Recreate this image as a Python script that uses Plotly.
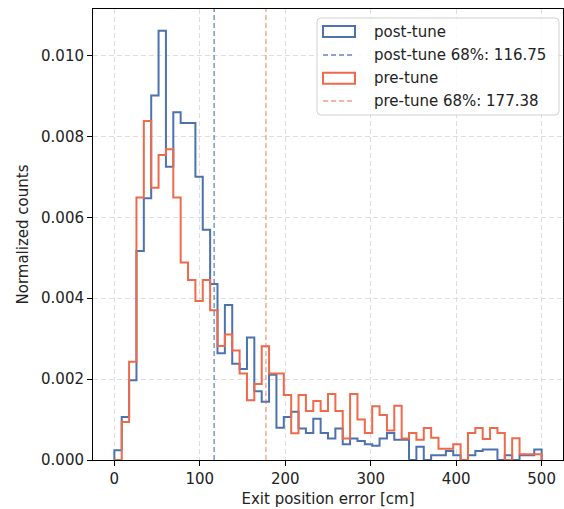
import numpy as np
import plotly.graph_objects as go

# ---- data -------------------------------------------------------------
bin_min = 0.0
bin_max = 500.0
n_bins = 58

post_tune = [0.00024, 0.00106, 0.00197, 0.00517, 0.00647, 0.00901, 0.01061, 0.00725, 0.00860, 0.00833,
             0.00833, 0.00700, 0.00569, 0.00435, 0.00264, 0.00383, 0.00238, 0.00225, 0.00303, 0.00170,
             0.00144, 0.00211, 0.00080, 0.00106, 0.00119, 0.00078, 0.00067, 0.00102, 0.00067, 0.00053,
             0.00078, 0.00039, 0.00053, 0.00047, 0.00039, 0.00035, 0.00053, 0.00067, 0.00050, 0.00050,
             0.0, 0.00033, 0.0, 0.00012, 0.00012, 0.00022, 0.00012, 0.0, 0.00012, 0.00022,
             0.00026, 0.00026, 0.0, 0.00012, 0.0, 0.00012, 0.00012, 0.00026]

pre_tune = [0.0, 0.00094, 0.00243, 0.00649, 0.00838, 0.00673, 0.00754, 0.00768, 0.00649, 0.00488,
            0.00445, 0.00393, 0.00445, 0.00370, 0.00282, 0.00310, 0.00271, 0.00214, 0.00148, 0.00188,
            0.00281, 0.00214, 0.00214, 0.00161, 0.00066, 0.00161, 0.00121, 0.00146, 0.00121, 0.00163,
            0.00121, 0.00053, 0.00163, 0.00100, 0.00067, 0.00133, 0.00111, 0.00073, 0.00134, 0.00053,
            0.00067, 0.00050, 0.00079, 0.00055, 0.00028, 0.00028, 0.00039, 0.0, 0.00067, 0.00079,
            0.00052, 0.00079, 0.00067, 0.0, 0.00054, 0.00014, 0.00014, 0.00014]

post_p68 = 116.75
pre_p68 = 177.38

series_names = ["post-tune", "pre-tune"]
x_ticks = [0, 100, 200, 300, 400, 500]
y_ticks = [0.000, 0.002, 0.004, 0.006, 0.008, 0.010]

# ---- styling ----------------------------------------------------------
W, H = 564, 509
ML, MR, MT, MB = 93, 1, 9, 49
BLUE = "#4C72B0"
RED = "#EE6A4B"
BLUE_DASH = "rgba(76,114,176,0.85)"
RED_DASH = "rgba(238,106,75,0.65)"
FONT = "DejaVu Sans"
FS = 15

edges = np.linspace(bin_min, bin_max, n_bins + 1)


def step_xy(counts):
    c = np.asarray(counts, dtype=float)
    x = np.concatenate([[edges[0]], edges[:-1], [edges[-1], edges[-1]]])
    y = np.concatenate([[0.0], c, [c[-1], 0.0]])
    return x, y


fig = go.Figure()

xb, yb = step_xy(post_tune)
fig.add_trace(go.Scatter(x=xb, y=yb, mode="lines", line=dict(color=BLUE, width=2, shape="hv"),
                         name=series_names[0], showlegend=False, hoverinfo="skip"))
xr, yr = step_xy(pre_tune)

shapes = []
# vertical percentile lines
shapes.append(dict(type="line", xref="x", yref="paper", x0=post_p68, x1=post_p68, y0=0, y1=1,
                   line=dict(color=BLUE_DASH, width=1.3, dash="5px,3px"), layer="above"))
fig.add_trace(go.Scatter(x=xr, y=yr, mode="lines", line=dict(color=RED, width=2, shape="hv"),
                         name=series_names[1], showlegend=False, hoverinfo="skip"))
shapes.append(dict(type="line", xref="x", yref="paper", x0=pre_p68, x1=pre_p68, y0=0, y1=1,
                   line=dict(color=RED_DASH, width=1.3, dash="5px,3px"), layer="above"))

# ---- manual legend (matplotlib style) ----------------------------------
PW = W - ML - MR
PH = H - MT - MB


def px(x):
    return (x - ML) / PW


def py(y):
    return (H - MB - y) / PH


lx0, lx1, ly0, ly1 = 317, 559, 18, 115
r = 4
path = (f"M {px(lx0 + r)},{py(ly0)} L {px(lx1 - r)},{py(ly0)} "
        f"Q {px(lx1)},{py(ly0)} {px(lx1)},{py(ly0 + r)} L {px(lx1)},{py(ly1 - r)} "
        f"Q {px(lx1)},{py(ly1)} {px(lx1 - r)},{py(ly1)} L {px(lx0 + r)},{py(ly1)} "
        f"Q {px(lx0)},{py(ly1)} {px(lx0)},{py(ly1 - r)} L {px(lx0)},{py(ly0 + r)} "
        f"Q {px(lx0)},{py(ly0)} {px(lx0 + r)},{py(ly0)} Z")
shapes.append(dict(type="path", xref="paper", yref="paper", path=path,
                   fillcolor="rgba(255,255,255,0.85)", line=dict(color="#d0d0d0", width=1), layer="above"))

rows = [31.5, 55, 78.3, 101]
labels = [series_names[0], f"{series_names[0]} 68%: {post_p68:.2f}",
          series_names[1], f"{series_names[1]} 68%: {pre_p68:.2f}"]
kinds = [("rect", BLUE), ("dash", BLUE_DASH), ("rect", RED), ("dash", RED_DASH)]
annotations = []
for yc, lab, (kind, col) in zip(rows, labels, kinds):
    if kind == "rect":
        shapes.append(dict(type="rect", xref="paper", yref="paper", x0=px(323), x1=px(355),
                           y0=py(yc - 5.5), y1=py(yc + 5.5), line=dict(color=col, width=2),
                           fillcolor="rgba(0,0,0,0)", layer="above"))
    else:
        shapes.append(dict(type="line", xref="paper", yref="paper", x0=px(323), x1=px(355),
                           y0=py(yc), y1=py(yc), line=dict(color=col, width=1.3, dash="5px,3px"),
                           layer="above"))
    annotations.append(dict(xref="paper", yref="paper", x=px(372), y=py(yc), text=lab, showarrow=False,
                            xanchor="left", yanchor="middle", font=dict(family=FONT, size=FS, color="#222")))

axis_common = dict(showline=True, mirror=True, linecolor="black", linewidth=1,
                   ticks="outside", ticklen=5, tickwidth=1, tickcolor="black",
                   showgrid=True, gridcolor="#dedede", gridwidth=1, griddash="5px,3px",
                   zeroline=False, tickfont=dict(family=FONT, size=FS, color="#222"))

fig.update_layout(
    width=W, height=H,
    margin=dict(l=ML, r=MR, t=MT, b=MB),
    paper_bgcolor="white", plot_bgcolor="white",
    showlegend=False,
    shapes=shapes, annotations=annotations,
    xaxis=dict(range=[-25, 525], tickvals=x_ticks, ticktext=[str(v) for v in x_ticks],
               title=dict(text="Exit position error [cm]", font=dict(family=FONT, size=FS, color="#222"),
                          standoff=6),
               **axis_common),
    yaxis=dict(range=[0, 0.01115], tickvals=y_ticks, ticktext=[f"{v:.3f}" for v in y_ticks],
               title=dict(text="Normalized counts", font=dict(family=FONT, size=FS, color="#222"),
                          standoff=8),
               **axis_common),
)

fig.write_html("out.html")
